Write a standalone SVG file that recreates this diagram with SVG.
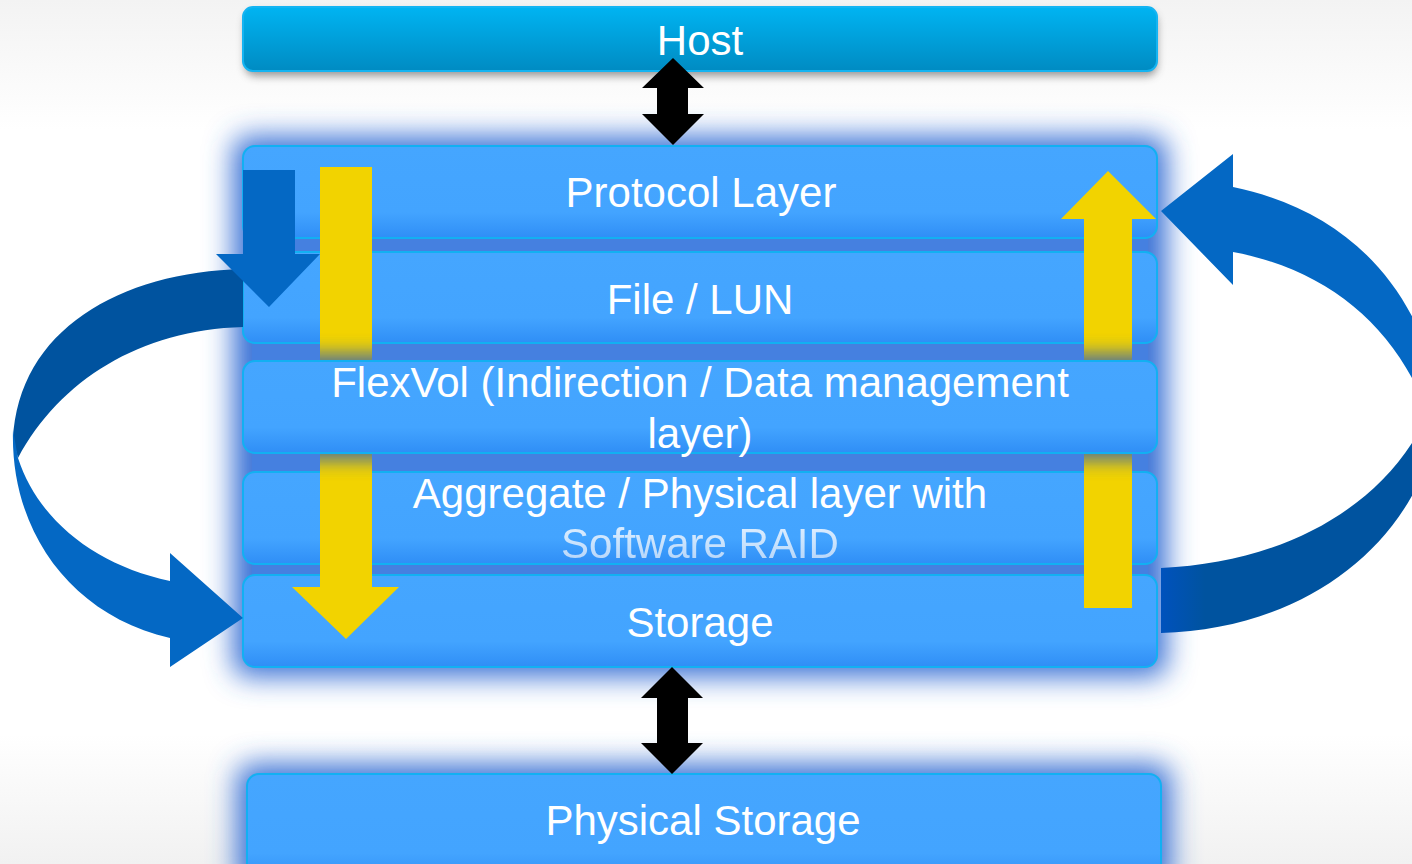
<svg xmlns="http://www.w3.org/2000/svg" width="1412" height="864" viewBox="0 0 1412 864">
<style>
  .lbl { font-family: "Liberation Sans", Arial, sans-serif; font-size: 42px; fill: #ffffff; text-anchor: middle; }
  .box { fill: url(#boxFill); stroke: #12b0f2; stroke-width: 2; }
  .blk { fill: #000000; }
  .yel { fill: #f2d300; }
  .bright { fill: #0468c4; }
  .dark { fill: #00539f; }
</style>
<defs>
  <linearGradient id="bg" x1="0" y1="0" x2="0" y2="1">
    <stop offset="0" stop-color="#f3f3f3"/>
    <stop offset="0.15" stop-color="#ffffff"/>
    <stop offset="0.85" stop-color="#ffffff"/>
    <stop offset="1" stop-color="#f1f1f1"/>
  </linearGradient>
  <linearGradient id="boxFill" x1="0" y1="0" x2="0" y2="1">
    <stop offset="0" stop-color="#45a6ff"/>
    <stop offset="0.72" stop-color="#43a4ff"/>
    <stop offset="1" stop-color="#2f8ef6"/>
  </linearGradient>
  <linearGradient id="hostFill" x1="0" y1="0" x2="0" y2="1">
    <stop offset="0" stop-color="#00b4f2"/>
    <stop offset="1" stop-color="#008bc2"/>
  </linearGradient>
  <linearGradient id="swFade" x1="0" y1="0" x2="0" y2="1">
    <stop offset="0" stop-color="#ffffff"/>
    <stop offset="1" stop-color="#c6defa"/>
  </linearGradient>
  <linearGradient id="rdark" x1="1161" y1="0" x2="1205" y2="0" gradientUnits="userSpaceOnUse">
    <stop offset="0" stop-color="#0052bd"/>
    <stop offset="1" stop-color="#00539f"/>
  </linearGradient>
  <filter id="glow" x="-10%" y="-30%" width="120%" height="160%">
    <feGaussianBlur stdDeviation="14"/>
  </filter>
  <filter id="glow2" x="-10%" y="-50%" width="120%" height="200%">
    <feGaussianBlur stdDeviation="9"/>
  </filter>
  <filter id="soft" x="-10%" y="-50%" width="120%" height="200%">
    <feGaussianBlur stdDeviation="4"/>
  </filter>
  <clipPath id="shafts">
    <rect x="320" y="300" width="52" height="200"/>
    <rect x="1084" y="300" width="48" height="200"/>
  </clipPath>
</defs>

<rect x="0" y="0" width="1412" height="864" fill="url(#bg)"/>

<!-- glows behind the stacks -->
<g id="glows">
  <rect x="233" y="136" width="934" height="541" rx="16" fill="#3a72d6" filter="url(#glow)"/>
  <rect x="237" y="764" width="934" height="130" rx="16" fill="#3a72d6" filter="url(#glow)"/>
  <rect x="252" y="152" width="896" height="508" fill="#4580e0"/>
</g>

<g id="host">
  <rect x="245" y="12" width="912" height="64" rx="10" fill="#444444" opacity="0.55" filter="url(#soft)"/>
  <rect x="243" y="7" width="914" height="64" rx="10" fill="url(#hostFill)" stroke="#14b4f2" stroke-width="2"/>
  <text class="lbl" x="700" y="55">Host</text>
</g>

<g id="protocol">
  <rect class="box" x="243" y="146" width="914" height="92" rx="12"/>
  <text class="lbl" x="701" y="207">Protocol Layer</text>
</g>

<g id="filelun">
  <rect class="box" x="243" y="252" width="914" height="91" rx="12"/>
  <text class="lbl" x="700" y="314">File / LUN</text>
</g>

<g id="aggregate">
  <rect class="box" x="243" y="472" width="914" height="92" rx="12"/>
  <text class="lbl" x="700" y="508">Aggregate / Physical layer with</text>
</g>

<g id="storage">
  <rect class="box" x="243" y="575" width="914" height="92" rx="12"/>
  <text class="lbl" x="700" y="637">Storage</text>
</g>

<g id="aggregate-line2">
  <text class="lbl" x="700" y="558" style="fill:url(#swFade)" opacity="0.85">Software RAID</text>
</g>

<g id="physical">
  <rect class="box" x="247" y="774" width="914" height="110" rx="12"/>
  <text class="lbl" x="703" y="835">Physical Storage</text>
</g>

<g id="connectors">
  <!-- host <-> protocol -->
  <path class="blk" d="M673 58 L704 88 L688 88 L688 114 L704 114 L673 145 L642 114 L657 114 L657 88 L642 88 Z"/>
  <!-- storage <-> physical -->
  <path class="blk" d="M672 667 L703 698 L688 698 L688 743 L703 743 L672 774 L641 743 L657 743 L657 698 L641 698 Z"/>
  <!-- left curved arrow -->
  <path class="dark" d="M243 269 C120 272 18 330 13 440 L18 458 C60 380 140 330 243 327 Z"/>
  <path class="bright" d="M13 430 C10 530 70 615 170 638 L170 667 L243 618 L170 553 L170 581 C95 565 38 520 18 458 Z"/>
  <!-- right curved arrow -->
  <path class="bright" d="M1233 187 C1320 205 1390 255 1425 345 L1430 420 C1400 330 1330 270 1233 252 L1233 285 L1161 211 L1233 154 Z"/>
  <path fill="url(#rdark)" d="M1161 568 C1280 563 1385 510 1430 410 L1430 455 C1395 560 1290 630 1161 633 Z"/>
  <!-- small down arrow -->
  <path class="bright" d="M243 170 L295 170 L295 254 L320 254 L269 307 L216 254 L243 254 Z"/>
  <!-- yellow arrows -->
  <path class="yel" d="M320 167 L372 167 L372 587 L399 587 L346 639 L292 587 L320 587 Z"/>
  <path class="yel" d="M1084 608 L1132 608 L1132 219 L1156 219 L1108 171 L1061 219 L1084 219 Z"/>
</g>

<g id="flexvol">
  <g clip-path="url(#shafts)">
    <rect x="235" y="353" width="930" height="108" rx="12" fill="#2f5db8" opacity="0.8" filter="url(#glow2)"/>
  </g>
  <rect class="box" x="243" y="361" width="914" height="92" rx="12"/>
  <text class="lbl" x="700" y="397">FlexVol (Indirection / Data management</text>
  <text class="lbl" x="700" y="448">layer)</text>
</g>
</svg>
